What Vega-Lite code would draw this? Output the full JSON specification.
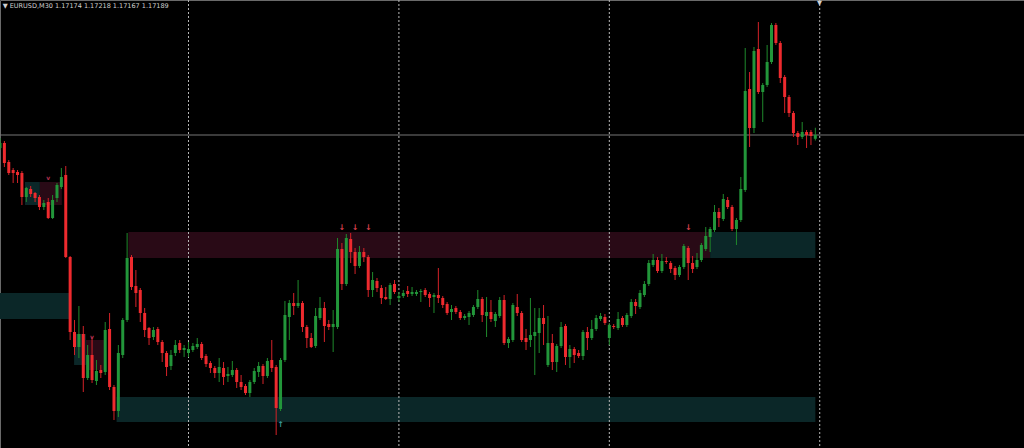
{
  "$schema": "https://vega.github.io/schema/vega-lite/v6.json",
  "width": 1024,
  "height": 448,
  "autosize": {"type": "fit", "contains": "padding"},
  "padding": 0,
  "background": "#000000",
  "config": {"view": {"stroke": "#6a6a6a", "strokeWidth": 1}, "scale": {"continuousPadding": 0}},
  "datasets": {
    "candles": [
      {"t":0,"o":1.17137,"h":1.17177,"l":1.17129,"c":1.17157},
      {"t":1,"o":1.17157,"h":1.17165,"l":1.17061,"c":1.17077},
      {"t":2,"o":1.17081,"h":1.17089,"l":1.17029,"c":1.17037},
      {"t":3,"o":1.17049,"h":1.17057,"l":1.16997,"c":1.17037},
      {"t":4,"o":1.17041,"h":1.17049,"l":1.16997,"c":1.17029},
      {"t":5,"o":1.17037,"h":1.17045,"l":1.16909,"c":1.16941},
      {"t":6,"o":1.16941,"h":1.16981,"l":1.16921,"c":1.16977},
      {"t":7,"o":1.16973,"h":1.16985,"l":1.16941,"c":1.16953},
      {"t":8,"o":1.16957,"h":1.16961,"l":1.16921,"c":1.16937},
      {"t":9,"o":1.16941,"h":1.16949,"l":1.16889,"c":1.16901},
      {"t":10,"o":1.16901,"h":1.16929,"l":1.16889,"c":1.16917},
      {"t":11,"o":1.16921,"h":1.16937,"l":1.16853,"c":1.16857},
      {"t":12,"o":1.16857,"h":1.16949,"l":1.16853,"c":1.16929},
      {"t":13,"o":1.16937,"h":1.16997,"l":1.16921,"c":1.16989},
      {"t":14,"o":1.16981,"h":1.17057,"l":1.16973,"c":1.17021},
      {"t":15,"o":1.17029,"h":1.17065,"l":1.16697,"c":1.16701},
      {"t":16,"o":1.16701,"h":1.16705,"l":1.16369,"c":1.16401},
      {"t":17,"o":1.16401,"h":1.16449,"l":1.16309,"c":1.16341},
      {"t":18,"o":1.16341,"h":1.16505,"l":1.16297,"c":1.16393},
      {"t":19,"o":1.16393,"h":1.16425,"l":1.16161,"c":1.16217},
      {"t":20,"o":1.16217,"h":1.16349,"l":1.16209,"c":1.16309},
      {"t":21,"o":1.16309,"h":1.16381,"l":1.16197,"c":1.16209},
      {"t":22,"o":1.16205,"h":1.16289,"l":1.16189,"c":1.16245},
      {"t":23,"o":1.16249,"h":1.16269,"l":1.16217,"c":1.16237},
      {"t":24,"o":1.16241,"h":1.16441,"l":1.16229,"c":1.16409},
      {"t":25,"o":1.16413,"h":1.16477,"l":1.16169,"c":1.16181},
      {"t":26,"o":1.16181,"h":1.16189,"l":1.16049,"c":1.16085},
      {"t":27,"o":1.16085,"h":1.16349,"l":1.16061,"c":1.16317},
      {"t":28,"o":1.16309,"h":1.16457,"l":1.16297,"c":1.16449},
      {"t":29,"o":1.16449,"h":1.16797,"l":1.16441,"c":1.16697},
      {"t":30,"o":1.16701,"h":1.16709,"l":1.16569,"c":1.16581},
      {"t":31,"o":1.16585,"h":1.16649,"l":1.16501,"c":1.16557},
      {"t":32,"o":1.16569,"h":1.16577,"l":1.16441,"c":1.16477},
      {"t":33,"o":1.16477,"h":1.16497,"l":1.16381,"c":1.16409},
      {"t":34,"o":1.16417,"h":1.16421,"l":1.16349,"c":1.16377},
      {"t":35,"o":1.16381,"h":1.16421,"l":1.16369,"c":1.16409},
      {"t":36,"o":1.16413,"h":1.16421,"l":1.16349,"c":1.16361},
      {"t":37,"o":1.16361,"h":1.16369,"l":1.16281,"c":1.16317},
      {"t":38,"o":1.16317,"h":1.16325,"l":1.16225,"c":1.16261},
      {"t":39,"o":1.16265,"h":1.16329,"l":1.16249,"c":1.16309},
      {"t":40,"o":1.16317,"h":1.16369,"l":1.16305,"c":1.16349},
      {"t":41,"o":1.16357,"h":1.16369,"l":1.16317,"c":1.16329},
      {"t":42,"o":1.16329,"h":1.16349,"l":1.16301,"c":1.16337},
      {"t":43,"o":1.16317,"h":1.16361,"l":1.16301,"c":1.16333},
      {"t":44,"o":1.16329,"h":1.16357,"l":1.16321,"c":1.16345},
      {"t":45,"o":1.16341,"h":1.16377,"l":1.16333,"c":1.16353},
      {"t":46,"o":1.16353,"h":1.16361,"l":1.16289,"c":1.16297},
      {"t":47,"o":1.16305,"h":1.16313,"l":1.16261,"c":1.16273},
      {"t":48,"o":1.16277,"h":1.16285,"l":1.16237,"c":1.16257},
      {"t":49,"o":1.16257,"h":1.16265,"l":1.16217,"c":1.16237},
      {"t":50,"o":1.16237,"h":1.16297,"l":1.16201,"c":1.16261},
      {"t":51,"o":1.16257,"h":1.16281,"l":1.16189,"c":1.16221},
      {"t":52,"o":1.16225,"h":1.16261,"l":1.16201,"c":1.16233},
      {"t":53,"o":1.16229,"h":1.16285,"l":1.16221,"c":1.16249},
      {"t":54,"o":1.16249,"h":1.16257,"l":1.16177,"c":1.16201},
      {"t":55,"o":1.16201,"h":1.16229,"l":1.16169,"c":1.16181},
      {"t":56,"o":1.16185,"h":1.16193,"l":1.16149,"c":1.16157},
      {"t":57,"o":1.16157,"h":1.16209,"l":1.16141,"c":1.16201},
      {"t":58,"o":1.16201,"h":1.16257,"l":1.16193,"c":1.16245},
      {"t":59,"o":1.16241,"h":1.16281,"l":1.16221,"c":1.16265},
      {"t":60,"o":1.16265,"h":1.16273,"l":1.16193,"c":1.16225},
      {"t":61,"o":1.16225,"h":1.16297,"l":1.16217,"c":1.16285},
      {"t":62,"o":1.16289,"h":1.16369,"l":1.16241,"c":1.16257},
      {"t":63,"o":1.16261,"h":1.16269,"l":1.15989,"c":1.16097},
      {"t":64,"o":1.16093,"h":1.16297,"l":1.16085,"c":1.16289},
      {"t":65,"o":1.16289,"h":1.16525,"l":1.16281,"c":1.16469},
      {"t":66,"o":1.16461,"h":1.16529,"l":1.16369,"c":1.16517},
      {"t":67,"o":1.16517,"h":1.16557,"l":1.16469,"c":1.16505},
      {"t":68,"o":1.16505,"h":1.16609,"l":1.16497,"c":1.16517},
      {"t":69,"o":1.16517,"h":1.16525,"l":1.16401,"c":1.16421},
      {"t":70,"o":1.16421,"h":1.16429,"l":1.16337,"c":1.16377},
      {"t":71,"o":1.16377,"h":1.16397,"l":1.16337,"c":1.16341},
      {"t":72,"o":1.16345,"h":1.16497,"l":1.16337,"c":1.16465},
      {"t":73,"o":1.16457,"h":1.16541,"l":1.16449,"c":1.16497},
      {"t":74,"o":1.16497,"h":1.16521,"l":1.16361,"c":1.16425},
      {"t":75,"o":1.16433,"h":1.16449,"l":1.16409,"c":1.16421},
      {"t":76,"o":1.16421,"h":1.16489,"l":1.16321,"c":1.16433},
      {"t":77,"o":1.16421,"h":1.16777,"l":1.16413,"c":1.16733},
      {"t":78,"o":1.16733,"h":1.16757,"l":1.16569,"c":1.16593},
      {"t":79,"o":1.16593,"h":1.16793,"l":1.16585,"c":1.16777},
      {"t":80,"o":1.16773,"h":1.16797,"l":1.16677,"c":1.16721},
      {"t":81,"o":1.16721,"h":1.16737,"l":1.16633,"c":1.16665},
      {"t":82,"o":1.16665,"h":1.16745,"l":1.16657,"c":1.16721},
      {"t":83,"o":1.16721,"h":1.16737,"l":1.16681,"c":1.16701},
      {"t":84,"o":1.16701,"h":1.16709,"l":1.16541,"c":1.16569},
      {"t":85,"o":1.16569,"h":1.16641,"l":1.16541,"c":1.16609},
      {"t":86,"o":1.16605,"h":1.16617,"l":1.16561,"c":1.16577},
      {"t":87,"o":1.16577,"h":1.16589,"l":1.16513,"c":1.16537},
      {"t":88,"o":1.16541,"h":1.16581,"l":1.16529,"c":1.16533},
      {"t":89,"o":1.16533,"h":1.16597,"l":1.16509,"c":1.16589},
      {"t":90,"o":1.16593,"h":1.16609,"l":1.16553,"c":1.16561},
      {"t":91,"o":1.16537,"h":1.16561,"l":1.16521,"c":1.16545},
      {"t":92,"o":1.16545,"h":1.16569,"l":1.16537,"c":1.16557},
      {"t":93,"o":1.16565,"h":1.16585,"l":1.16541,"c":1.16553},
      {"t":94,"o":1.16553,"h":1.16581,"l":1.16545,"c":1.16561},
      {"t":95,"o":1.16553,"h":1.16569,"l":1.16545,"c":1.16561},
      {"t":96,"o":1.16561,"h":1.16573,"l":1.16521,"c":1.16565},
      {"t":97,"o":1.16569,"h":1.16577,"l":1.16541,"c":1.16549},
      {"t":98,"o":1.16553,"h":1.16561,"l":1.16501,"c":1.16537},
      {"t":99,"o":1.16541,"h":1.16557,"l":1.16477,"c":1.16549},
      {"t":100,"o":1.16549,"h":1.16657,"l":1.16517,"c":1.16537},
      {"t":101,"o":1.16537,"h":1.16545,"l":1.16497,"c":1.16509},
      {"t":102,"o":1.16513,"h":1.16521,"l":1.16469,"c":1.16477},
      {"t":103,"o":1.16481,"h":1.16509,"l":1.16449,"c":1.16493},
      {"t":104,"o":1.16497,"h":1.16505,"l":1.16473,"c":1.16481},
      {"t":105,"o":1.16481,"h":1.16489,"l":1.16449,"c":1.16457},
      {"t":106,"o":1.16457,"h":1.16473,"l":1.16449,"c":1.16465},
      {"t":107,"o":1.16461,"h":1.16485,"l":1.16429,"c":1.16477},
      {"t":108,"o":1.16469,"h":1.16509,"l":1.16461,"c":1.16501},
      {"t":109,"o":1.16501,"h":1.16569,"l":1.16493,"c":1.16533},
      {"t":110,"o":1.16533,"h":1.16541,"l":1.16441,"c":1.16469},
      {"t":111,"o":1.16465,"h":1.16541,"l":1.16381,"c":1.16481},
      {"t":112,"o":1.16481,"h":1.16529,"l":1.16441,"c":1.16453},
      {"t":113,"o":1.16445,"h":1.16481,"l":1.16421,"c":1.16473},
      {"t":114,"o":1.16465,"h":1.16541,"l":1.16457,"c":1.16529},
      {"t":115,"o":1.16529,"h":1.16549,"l":1.16349,"c":1.16357},
      {"t":116,"o":1.16357,"h":1.16381,"l":1.16337,"c":1.16373},
      {"t":117,"o":1.16369,"h":1.16517,"l":1.16361,"c":1.16509},
      {"t":118,"o":1.16501,"h":1.16553,"l":1.16465,"c":1.16477},
      {"t":119,"o":1.16477,"h":1.16485,"l":1.16361,"c":1.16369},
      {"t":120,"o":1.16377,"h":1.16413,"l":1.16329,"c":1.16361},
      {"t":121,"o":1.16369,"h":1.16537,"l":1.16341,"c":1.16389},
      {"t":122,"o":1.16385,"h":1.16497,"l":1.16229,"c":1.16401},
      {"t":123,"o":1.16397,"h":1.16497,"l":1.16317,"c":1.16457},
      {"t":124,"o":1.16457,"h":1.16509,"l":1.16349,"c":1.16433},
      {"t":125,"o":1.16269,"h":1.16465,"l":1.16261,"c":1.16357},
      {"t":126,"o":1.16357,"h":1.16393,"l":1.16249,"c":1.16281},
      {"t":127,"o":1.16281,"h":1.16353,"l":1.16241,"c":1.16345},
      {"t":128,"o":1.16345,"h":1.16441,"l":1.16337,"c":1.16421},
      {"t":129,"o":1.16425,"h":1.16433,"l":1.16269,"c":1.16301},
      {"t":130,"o":1.16301,"h":1.16349,"l":1.16257,"c":1.16333},
      {"t":131,"o":1.16333,"h":1.16341,"l":1.16277,"c":1.16309},
      {"t":132,"o":1.16317,"h":1.16329,"l":1.16297,"c":1.16305},
      {"t":133,"o":1.16305,"h":1.16409,"l":1.16289,"c":1.16401},
      {"t":134,"o":1.16401,"h":1.16421,"l":1.16329,"c":1.16377},
      {"t":135,"o":1.16377,"h":1.16449,"l":1.16369,"c":1.16413},
      {"t":136,"o":1.16413,"h":1.16469,"l":1.16405,"c":1.16457},
      {"t":137,"o":1.16453,"h":1.16477,"l":1.16445,"c":1.16465},
      {"t":138,"o":1.16461,"h":1.16473,"l":1.16429,"c":1.16437},
      {"t":139,"o":1.16377,"h":1.16437,"l":1.16349,"c":1.16429},
      {"t":140,"o":1.16425,"h":1.16433,"l":1.16413,"c":1.16421},
      {"t":141,"o":1.16417,"h":1.16481,"l":1.16409,"c":1.16453},
      {"t":142,"o":1.16457,"h":1.16465,"l":1.16421,"c":1.16429},
      {"t":143,"o":1.16429,"h":1.16477,"l":1.16421,"c":1.16469},
      {"t":144,"o":1.16465,"h":1.16533,"l":1.16457,"c":1.16521},
      {"t":145,"o":1.16521,"h":1.16533,"l":1.16473,"c":1.16505},
      {"t":146,"o":1.16501,"h":1.16569,"l":1.16493,"c":1.16557},
      {"t":147,"o":1.16549,"h":1.16605,"l":1.16541,"c":1.16593},
      {"t":148,"o":1.16593,"h":1.16689,"l":1.16585,"c":1.16677},
      {"t":149,"o":1.16669,"h":1.16713,"l":1.16661,"c":1.16689},
      {"t":150,"o":1.16689,"h":1.16701,"l":1.16637,"c":1.16645},
      {"t":151,"o":1.16645,"h":1.16713,"l":1.16637,"c":1.16685},
      {"t":152,"o":1.16685,"h":1.16701,"l":1.16673,"c":1.16681},
      {"t":153,"o":1.16677,"h":1.16685,"l":1.16637,"c":1.16653},
      {"t":154,"o":1.16657,"h":1.16665,"l":1.16609,"c":1.16629},
      {"t":155,"o":1.16629,"h":1.16669,"l":1.16621,"c":1.16661},
      {"t":156,"o":1.16661,"h":1.16753,"l":1.16653,"c":1.16745},
      {"t":157,"o":1.16737,"h":1.16745,"l":1.16609,"c":1.16677},
      {"t":158,"o":1.16677,"h":1.16705,"l":1.16637,"c":1.16653},
      {"t":159,"o":1.16661,"h":1.16717,"l":1.16653,"c":1.16689},
      {"t":160,"o":1.16689,"h":1.16757,"l":1.16681,"c":1.16749},
      {"t":161,"o":1.16733,"h":1.16821,"l":1.16725,"c":1.16785},
      {"t":162,"o":1.16781,"h":1.16821,"l":1.16721,"c":1.16813},
      {"t":163,"o":1.16809,"h":1.16909,"l":1.16801,"c":1.16881},
      {"t":164,"o":1.16881,"h":1.16897,"l":1.16821,"c":1.16857},
      {"t":165,"o":1.16853,"h":1.16953,"l":1.16845,"c":1.16933},
      {"t":166,"o":1.16929,"h":1.16941,"l":1.16893,"c":1.16901},
      {"t":167,"o":1.16901,"h":1.16909,"l":1.16805,"c":1.16813},
      {"t":168,"o":1.16813,"h":1.16857,"l":1.16749,"c":1.16849},
      {"t":169,"o":1.16849,"h":1.17021,"l":1.16841,"c":1.16973},
      {"t":170,"o":1.16969,"h":1.17537,"l":1.16961,"c":1.17365},
      {"t":171,"o":1.17373,"h":1.17441,"l":1.17141,"c":1.17217},
      {"t":172,"o":1.17217,"h":1.17541,"l":1.17197,"c":1.17525},
      {"t":173,"o":1.17533,"h":1.17641,"l":1.17353,"c":1.17361},
      {"t":174,"o":1.17361,"h":1.17397,"l":1.17241,"c":1.17389},
      {"t":175,"o":1.17389,"h":1.17549,"l":1.17381,"c":1.17481},
      {"t":176,"o":1.17481,"h":1.17637,"l":1.17473,"c":1.17629},
      {"t":177,"o":1.17629,"h":1.17637,"l":1.17549,"c":1.17557},
      {"t":178,"o":1.17557,"h":1.17565,"l":1.17397,"c":1.17417},
      {"t":179,"o":1.17421,"h":1.17429,"l":1.17277,"c":1.17341},
      {"t":180,"o":1.17341,"h":1.17349,"l":1.17261,"c":1.17277},
      {"t":181,"o":1.17277,"h":1.17285,"l":1.17181,"c":1.17197},
      {"t":182,"o":1.17197,"h":1.17205,"l":1.17149,"c":1.17181},
      {"t":183,"o":1.17181,"h":1.17241,"l":1.17173,"c":1.17201},
      {"t":184,"o":1.17201,"h":1.17209,"l":1.17137,"c":1.17189},
      {"t":185,"o":1.17201,"h":1.17209,"l":1.17149,"c":1.17185},
      {"t":186,"o":1.17174,"h":1.17218,"l":1.17167,"c":1.17189}
    ],
    "zones": [
      {"start":29.3,"end":162,"top":1.16801,"bottom":1.16697,"kind":"supply"},
      {"start":162,"end":186,"top":1.16801,"bottom":1.16697,"kind":"demand"},
      {"start":0,"end":16,"top":1.16557,"bottom":1.16453,"kind":"demand"},
      {"start":26.6,"end":186,"top":1.16141,"bottom":1.16041,"kind":"demand"},
      {"start":5.7,"end":9.1,"top":1.17001,"bottom":1.16909,"kind":"demand"},
      {"start":9.1,"end":14.1,"top":1.17001,"bottom":1.16909,"kind":"supply"},
      {"start":16.9,"end":19.6,"top":1.16393,"bottom":1.16269,"kind":"demand"},
      {"start":19.6,"end":23.7,"top":1.16369,"bottom":1.16249,"kind":"supply"}
    ],
    "signals": [
      {"t":78,"p":1.16817,"kind":"sell"},
      {"t":81,"p":1.16817,"kind":"sell"},
      {"t":84,"p":1.16817,"kind":"sell"},
      {"t":157,"p":1.16817,"kind":"sell"},
      {"t":11,"p":1.17017,"kind":"weak"},
      {"t":21,"p":1.16381,"kind":"weak"},
      {"t":64,"p":1.16029,"kind":"buy"}
    ],
    "days": [{"t":43},{"t":91},{"t":139},{"t":187}],
    "labels": [
      {"t":0.6,"p":1.17707,"label":"▼ EURUSD,M30  1.17174 1.17218 1.17167 1.17189"},
      {"t":186.4,"p":1.17716,"label":"▼"}
    ]
  },
  "layer": [
    {
      "data": {"name": "zones"},
      "mark": {"type": "rect", "clip": true},
      "encoding": {
        "x": {"field": "start", "type": "quantitative", "scale": {"domain": [0, 233.6], "nice": false, "zero": false, "padding": 0}, "axis": null},
        "x2": {"field": "end"},
        "y": {"field": "top", "type": "quantitative", "scale": {"domain": [1.15937, 1.17729], "nice": false, "zero": false, "padding": 0}, "axis": null},
        "y2": {"field": "bottom"},
        "color": {"field": "kind", "type": "nominal", "scale": {"domain": ["supply", "demand"], "range": ["#290a16", "#0b2728"]}, "legend": null}
      }
    },
    {
      "data": {"name": "days"},
      "mark": {"type": "rule", "color": "#b8b8b8", "strokeDash": [2, 2], "strokeWidth": 1, "clip": true},
      "encoding": {
        "x": {"field": "t", "type": "quantitative", "scale": {"domain": [0, 233.6], "nice": false, "zero": false, "padding": 0}, "axis": null}
      }
    },
    {
      "data": {"values": [{}]},
      "mark": {"type": "rule", "color": "#767676", "strokeWidth": 1, "clip": true},
      "encoding": {
        "y": {"datum": 1.17189, "type": "quantitative", "scale": {"domain": [1.15937, 1.17729], "nice": false, "zero": false, "padding": 0}, "axis": null}
      }
    },
    {
      "data": {"name": "candles"},
      "mark": {"type": "rule", "strokeWidth": 1, "clip": true},
      "encoding": {
        "x": {"field": "t", "type": "quantitative", "scale": {"domain": [0, 233.6], "nice": false, "zero": false, "padding": 0}, "axis": null},
        "y": {"field": "l", "type": "quantitative", "scale": {"domain": [1.15937, 1.17729], "nice": false, "zero": false, "padding": 0}, "axis": null},
        "y2": {"field": "h"},
        "color": {"condition": {"test": "datum.c >= datum.o", "value": "#1f8a2c"}, "value": "#d42228"}
      }
    },
    {
      "data": {"name": "candles"},
      "mark": {"type": "bar", "size": 3, "clip": true, "minBandSize": 1},
      "encoding": {
        "x": {"field": "t", "type": "quantitative", "scale": {"domain": [0, 233.6], "nice": false, "zero": false, "padding": 0}, "axis": null},
        "y": {"field": "o", "type": "quantitative", "scale": {"domain": [1.15937, 1.17729], "nice": false, "zero": false, "padding": 0}, "axis": null},
        "y2": {"field": "c"},
        "color": {"condition": {"test": "datum.c >= datum.o", "value": "#22963a"}, "value": "#ee2a2e"}
      }
    },
    {
      "data": {"name": "signals"},
      "mark": {"type": "text", "font": "DejaVu Sans", "fontWeight": "bold", "baseline": "middle", "align": "center"},
      "encoding": {
        "x": {"field": "t", "type": "quantitative", "scale": {"domain": [0, 233.6], "nice": false, "zero": false, "padding": 0}, "axis": null},
        "y": {"field": "p", "type": "quantitative", "scale": {"domain": [1.15937, 1.17729], "nice": false, "zero": false, "padding": 0}, "axis": null},
        "text": {"condition": [{"test": "datum.kind === 'sell'", "value": "↓"}, {"test": "datum.kind === 'buy'", "value": "↑"}], "value": "v"},
        "size": {"condition": {"test": "datum.kind === 'weak'", "value": 6}, "value": 8},
        "color": {"condition": [{"test": "datum.kind === 'buy'", "value": "#3a9a9a"}, {"test": "datum.kind === 'weak'", "value": "#b03050"}], "value": "#d8404e"}
      }
    },
    {
      "data": {"name": "labels"},
      "mark": {"type": "text", "font": "DejaVu Sans", "fontSize": 6.5, "align": "left", "baseline": "middle", "color": "#d0d0d0"},
      "encoding": {
        "x": {"field": "t", "type": "quantitative", "scale": {"domain": [0, 233.6], "nice": false, "zero": false, "padding": 0}, "axis": null},
        "y": {"field": "p", "type": "quantitative", "scale": {"domain": [1.15937, 1.17729], "nice": false, "zero": false, "padding": 0}, "axis": null},
        "text": {"field": "label"}
      }
    }
  ]
}
